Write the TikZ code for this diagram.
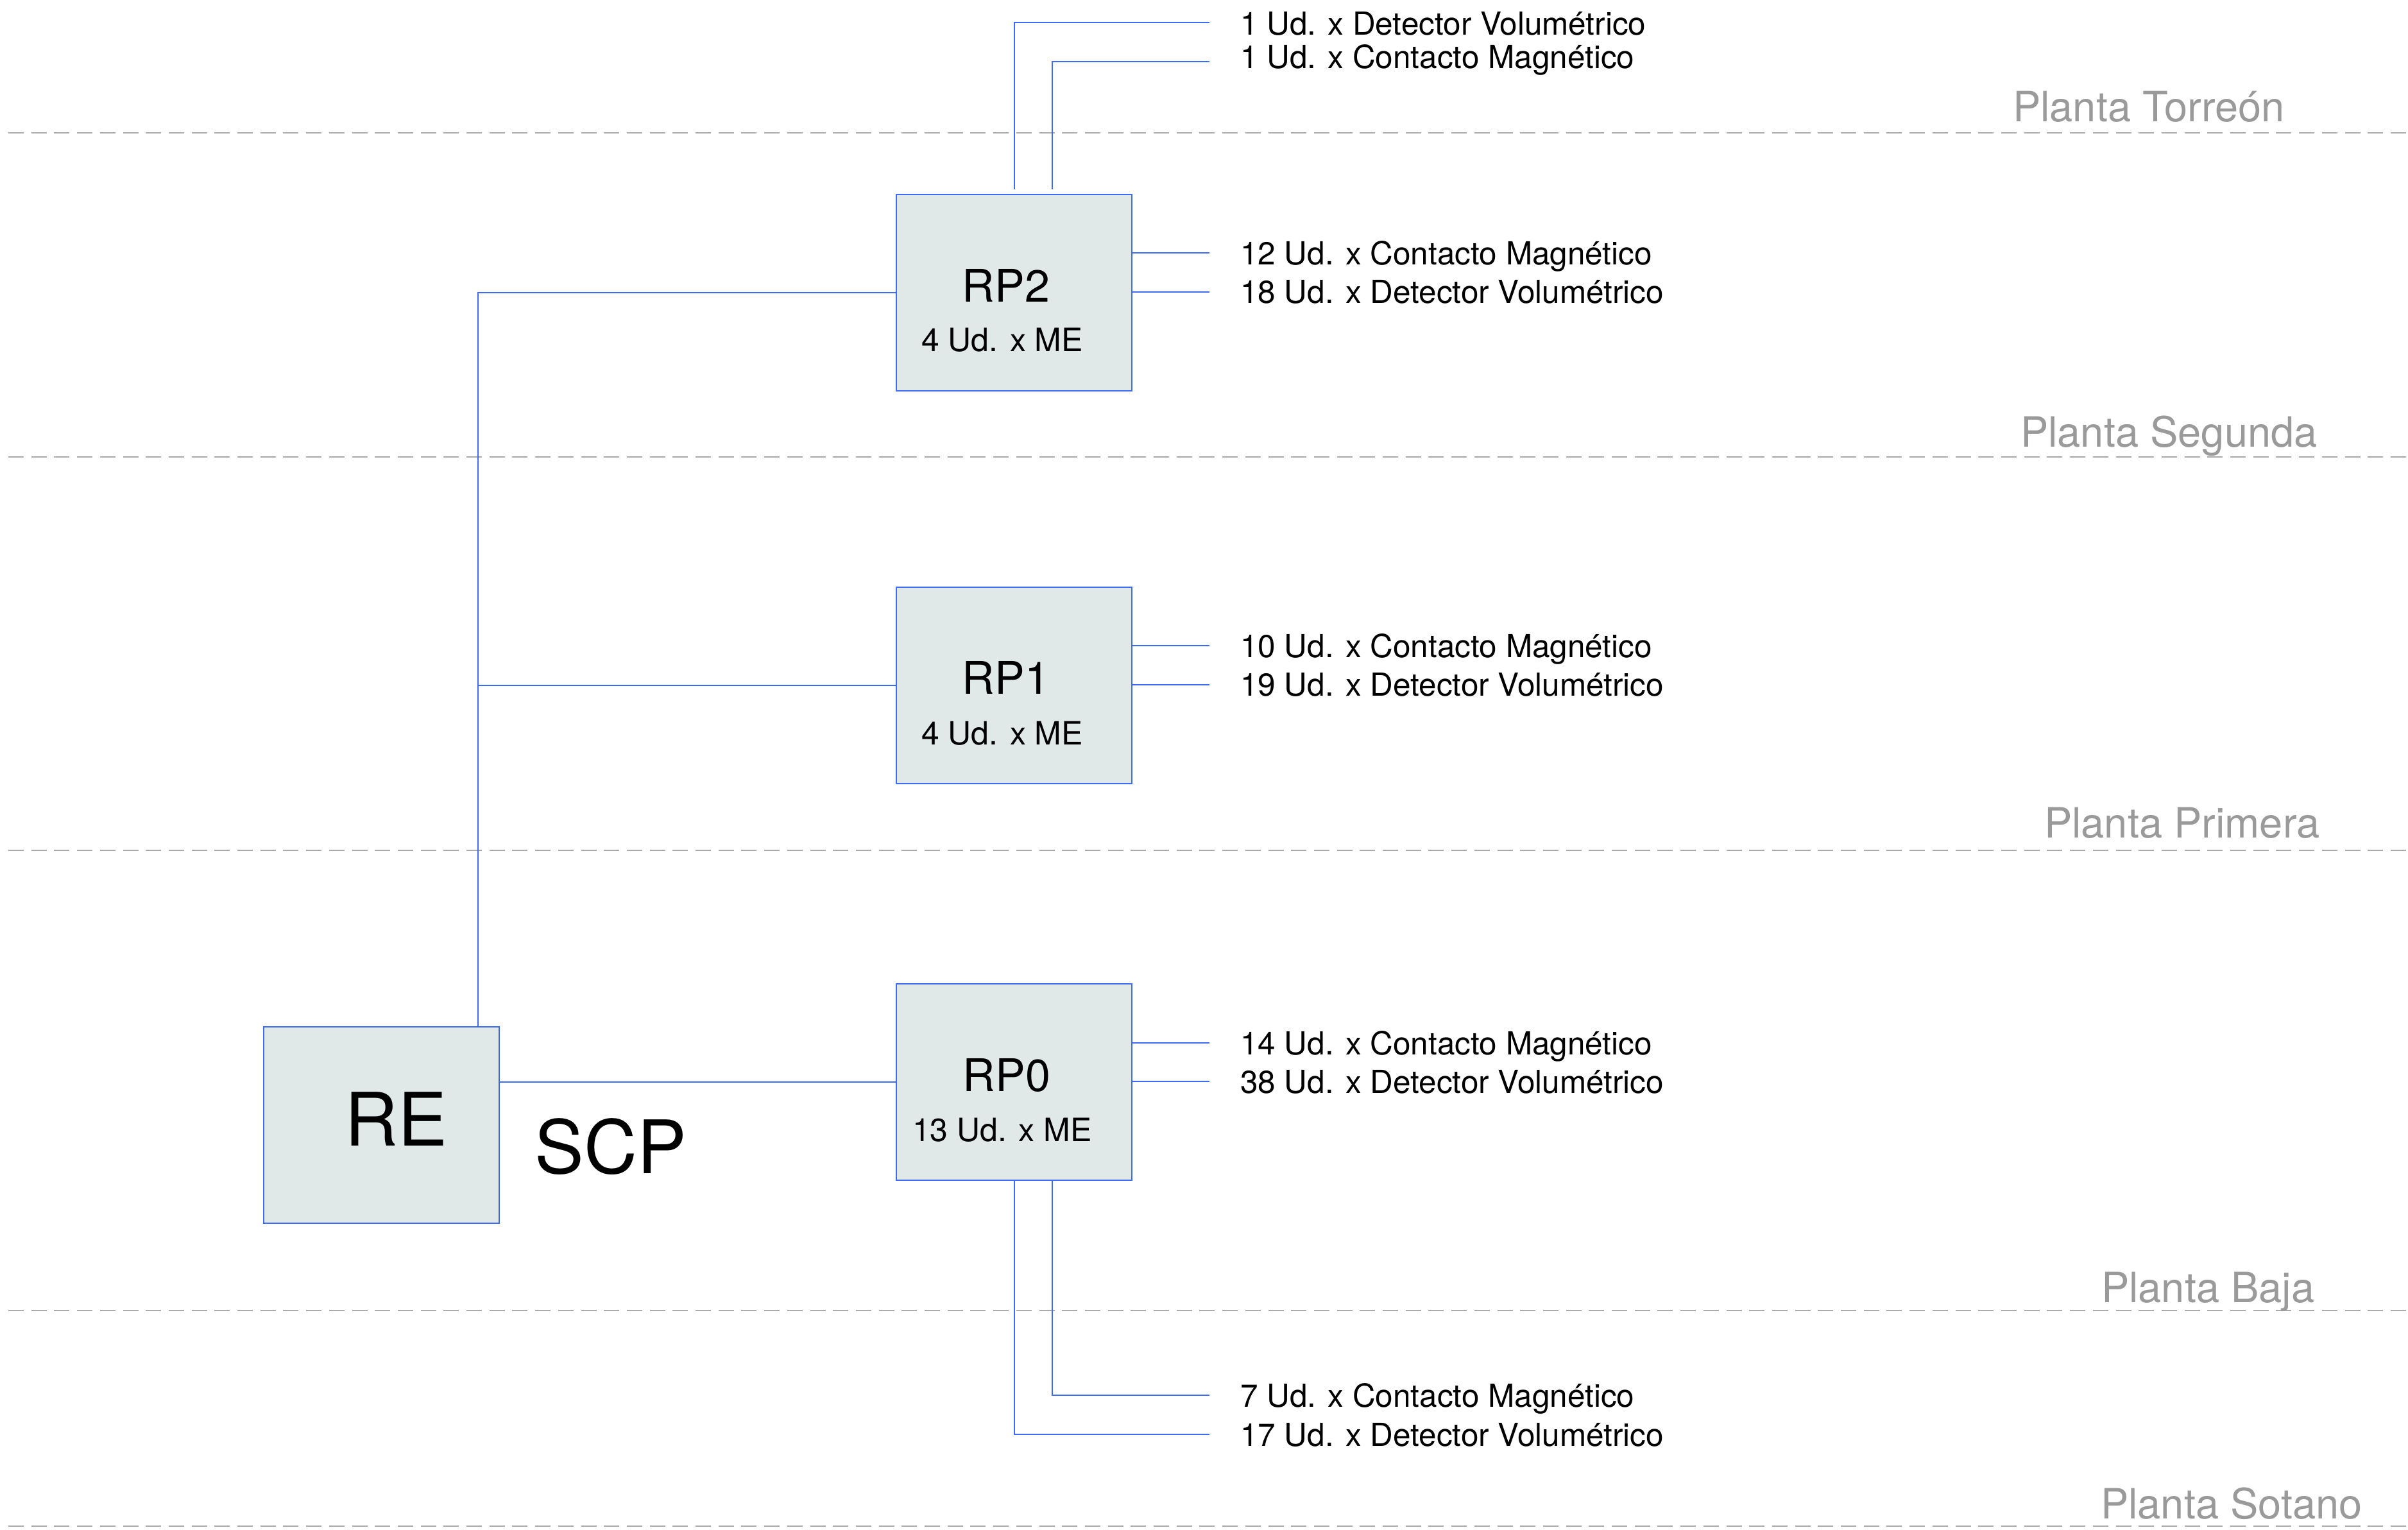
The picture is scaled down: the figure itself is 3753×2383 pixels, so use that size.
\documentclass[tikz,border=0pt]{standalone}
\usepackage{fontspec}
\setmainfont{TeX Gyre Heros}
\definecolor{wireblue}{HTML}{3D6BF5}
\definecolor{boxfill}{HTML}{E1E8E8}
\definecolor{floorgray}{HTML}{9A9A9A}
\definecolor{dashgray}{HTML}{AAAAAA}
\begin{document}
\begin{tikzpicture}[x=0.2pt,y=-0.2pt,
  wire/.style={draw=wireblue,line width=0.45pt},
  rpbox/.style={draw=wireblue,line width=0.45pt,fill=boxfill,minimum width=73.4pt,minimum height=61.2pt,inner sep=0pt,anchor=north west},
  item/.style={anchor=base west,inner sep=0pt,font=\fontsize{9.9}{12}\selectfont},
  boxtitle/.style={anchor=base,inner sep=0pt,font=\fontsize{14}{16}\selectfont},
  boxsub/.style={anchor=base,inner sep=0pt,font=\fontsize{10}{12}\selectfont},
  bigtext/.style={anchor=base,inner sep=0pt,font=\fontsize{23}{26}\selectfont},
  floorline/.style={draw=dashgray,line width=0.5pt,dash pattern=on 4.8pt off 2.34pt},
  floorlabel/.style={anchor=base west,inner sep=0pt,text=floorgray,font=\fontsize{13}{16}\selectfont}]
\fill[white] (0,0) rectangle (3753,2383);
\useasboundingbox (0,0) rectangle (3753,2383);

% floor separators
\foreach \n/\yy in {a/207,b/712,c/1325,d/2042,e/2378}{
  \coordinate (fl\n l) at (13,\yy);
  \coordinate (fl\n r) at (3753,\yy);
  \draw[floorline] (fl\n l) -- (fl\n r);
}
\node[floorlabel] (torreon) at (3136,190) {Planta Torreón};
\node[floorlabel] (segunda) at (3148,696) {Planta Segunda};
\node[floorlabel] (primera) at (3185,1305) {Planta Primera};
\node[floorlabel] (baja) at (3274,2029) {Planta Baja};
\node[floorlabel] (sotano) at (3273,2366) {Planta Sotano};

% boxes
\node[rpbox] (rp2) at (1396,302) {};
\node[rpbox] (rp1) at (1396,914) {};
\node[rpbox] (rp0) at (1396,1532) {};
\node[rpbox] (re) at (410,1599) {};

\node[boxtitle] (rp2t) at (1568,470) {RP2};
\node[boxsub] (rp2s) at (1562,548) {4 Ud. x ME};
\node[boxtitle] (rp1t) at (1568,1081) {RP1};
\node[boxsub] (rp1s) at (1562,1160) {4 Ud. x ME};
\node[boxtitle] (rp0t) at (1569,1700) {RP0};
\node[boxsub] (rp0s) at (1562,1778) {13 Ud. x ME};
\node[bigtext] (ret) at (617,1785) {RE};
\node[bigtext] (scp) at (952,1828) {SCP};

% bus
\coordinate (bus) at (745,0);
\draw[wire] (bus |- re.north) -- (bus |- rp2.west) -- (rp2.west);
\draw[wire] (bus |- rp1.west) -- (rp1.west);
\draw[wire] (re.east |- rp0.west) -- (rp0.west);

% item texts
\node[item] (t2a) at (1932,55) {1 Ud. x Detector Volumétrico};
\node[item] (t2b) at (1932,107) {1 Ud. x Contacto Magnético};
\node[item] (r2a) at (1932,413) {12 Ud. x Contacto Magnético};
\node[item] (r2b) at (1932,473) {18 Ud. x Detector Volumétrico};
\node[item] (r1a) at (1932,1024) {10 Ud. x Contacto Magnético};
\node[item] (r1b) at (1932,1084) {19 Ud. x Detector Volumétrico};
\node[item] (r0a) at (1932,1643) {14 Ud. x Contacto Magnético};
\node[item] (r0b) at (1932,1703) {38 Ud. x Detector Volumétrico};
\node[item] (b0a) at (1932,2192) {7 Ud. x Contacto Magnético};
\node[item] (b0b) at (1932,2253) {17 Ud. x Detector Volumétrico};

% connector ends
\coordinate (v2) at (1640,0);
\coordinate (et1) at (1885,35);
\coordinate (et2) at (1885,96);
\coordinate (e2a) at (1885,394);
\coordinate (e2b) at (1885,455);
\coordinate (e1a) at (1885,1006);
\coordinate (e1b) at (1885,1067);
\coordinate (e0a) at (1885,1625);
\coordinate (e0b) at (1885,1685);
\coordinate (eb1) at (1885,2174);
\coordinate (eb2) at (1885,2235);

\draw[wire] ([yshift=1.4pt]rp2.north) -- (rp2.north |- et1) -- (et1);
\draw[wire] ([yshift=1.4pt]v2 |- rp2.north) -- (v2 |- et2) -- (et2);
\draw[wire] (rp2.east |- e2a) -- (e2a);
\draw[wire] (rp2.east |- e2b) -- (e2b);
\draw[wire] (rp1.east |- e1a) -- (e1a);
\draw[wire] (rp1.east |- e1b) -- (e1b);
\draw[wire] (rp0.east |- e0a) -- (e0a);
\draw[wire] (rp0.east |- e0b) -- (e0b);
\draw[wire] (v2 |- rp0.south) -- (v2 |- eb1) -- (eb1);
\draw[wire] (rp0.south) -- (rp0.south |- eb2) -- (eb2);
\end{tikzpicture}
\end{document}
